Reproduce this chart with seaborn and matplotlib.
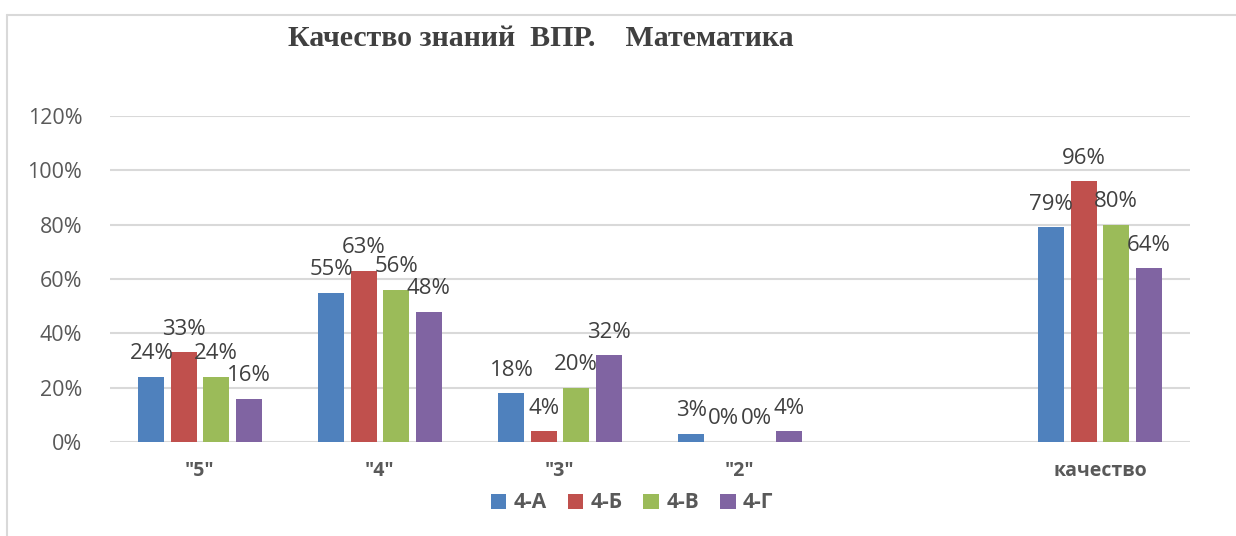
import numpy as np
import pandas as pd
import matplotlib
matplotlib.use("Agg")
import matplotlib.pyplot as plt
import seaborn as sns
from matplotlib.lines import Line2D
from matplotlib.patches import Patch


categories = ['"5"', '"4"', '"3"', '"2"', '', 'качество']
classes = ['4-А', '4-Б', '4-В', '4-Г']
val_a = [0.24, 0.55, 0.18, 0.03, np.nan, 0.79]
val_b = [0.33, 0.63, 0.04, 0.00, np.nan, 0.96]
val_v = [0.24, 0.56, 0.20, 0.00, np.nan, 0.80]
val_g = [0.16, 0.48, 0.32, 0.04, np.nan, 0.64]
colors = ['#4F81BD', '#C0504D', '#9BBB59', '#8064A2']
title = 'Качество знаний  ВПР.    Математика'

rows = []
for cls, vals in zip(classes, [val_a, val_b, val_v, val_g]):
    for cat, v in zip(categories, vals):
        rows.append({'cat': cat, 'cls': cls, 'val': v})
df = pd.DataFrame(rows)

sns.set_theme(style="white")
plt.rcParams['font.family'] = ['Open Sans', 'DejaVu Sans']

fig = plt.figure(figsize=(12.36, 5.36), dpi=100)
ax = fig.add_axes([110 / 1236, 1 - 442 / 536, 1080 / 1236, 326 / 536])

sns.barplot(data=df, x='cat', y='val', hue='cls', order=categories,
            hue_order=classes, palette=colors, saturation=1, width=0.72,
            gap=0.2, linewidth=0, legend=False, ax=ax)

for c in ax.containers:
    ax.bar_label(c, fmt=lambda x: f"{x:.0%}", padding=9, fontsize=16,
                 color='#404040')

ax.set_ylim(0, 1.2)
ax.set_xlim(-0.5, len(categories) - 0.5)
ax.set_yticks(np.arange(0, 1.21, 0.2))
ax.set_yticklabels([f"{int(round(t * 100))}%" for t in np.arange(0, 1.21, 0.2)],
                   fontsize=15.5, color='#595959')
ax.tick_params(axis='y', length=0, pad=20)
ax.tick_params(axis='x', length=0, pad=14)
for lbl in ax.get_xticklabels():
    lbl.set_fontsize(14)
    lbl.set_fontweight('bold')
    lbl.set_color('#595959')
ax.set_xlabel('')
ax.set_ylabel('')
ax.yaxis.grid(True, color='#D9D9D9', linewidth=1.5)
ax.set_axisbelow(True)
for s in ax.spines.values():
    s.set_visible(False)

fig.text(541 / 1236, 1 - 38 / 536, title, ha='center', va='center',
         family='Liberation Serif', fontweight='bold', fontsize=21.5,
         color='#404040')

handles = [Patch(facecolor=col, edgecolor='none') for col in colors]
fig.legend(handles, classes, loc='center', bbox_to_anchor=(632 / 1236, 1 - 503 / 536),
           ncol=4, frameon=False, handlelength=0.75, handleheight=0.75,
           handletextpad=0.35, columnspacing=1.0,
           prop={'family': 'Open Sans', 'weight': 'bold', 'size': 15})
for t in fig.legends[0].get_texts():
    t.set_color('#595959')

# outer frame (top and left edges only visible)
fig.add_artist(Line2D([7 / 1236, 1], [1 - 14.5 / 536, 1 - 14.5 / 536],
                      transform=fig.transFigure, color='#D9D9D9', linewidth=1.5))
fig.add_artist(Line2D([7 / 1236, 7 / 1236], [0, 1 - 14.5 / 536],
                      transform=fig.transFigure, color='#D9D9D9', linewidth=1.5))

fig.savefig('out.png', dpi=100)
